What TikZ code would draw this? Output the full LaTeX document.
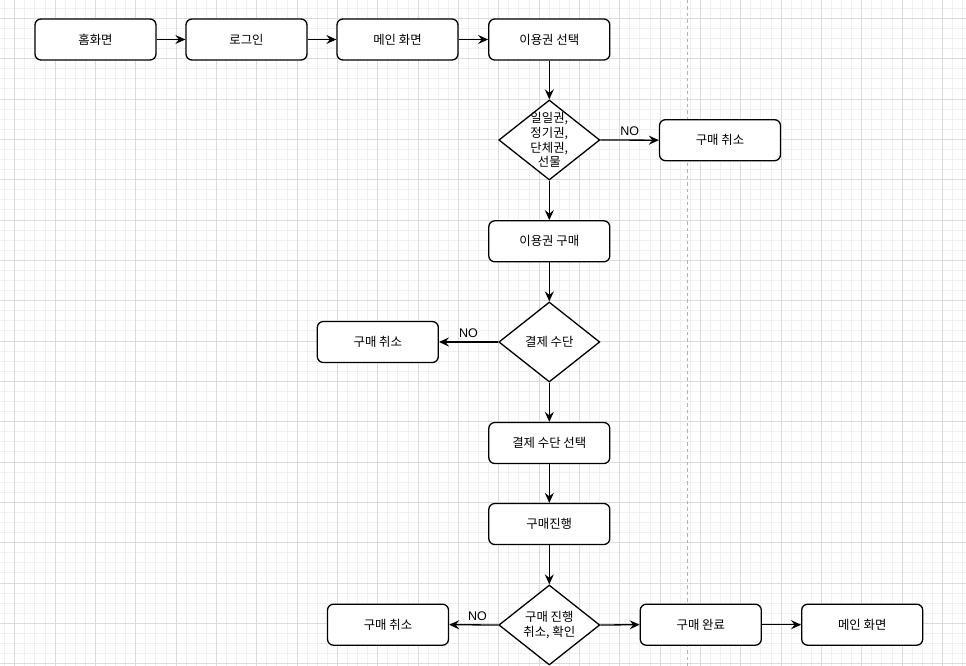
\documentclass[tikz,border=0pt]{standalone}
\usepackage{fontspec}
\setmainfont{Noto Sans CJK KR}
\newfontfamily\latinfont{Liberation Sans}
\usetikzlibrary{shapes.geometric,arrows.meta}
\tikzset{
  minorgrid/.style={draw=black!6, line width=0.8pt},
  majorgrid/.style={draw=black!14, line width=0.8pt},
  divider/.style={draw=black!30, line width=0.9pt, dash pattern=on 3.5pt off 3pt},
  box/.style={draw=black, line width=1.3pt, rounded corners=6pt, minimum width=121pt,
    minimum height=41pt, inner sep=0pt, fill=white, font=\fontsize{12.4}{14.6}\selectfont},
  dia/.style={draw=black, line width=1.3pt, diamond, minimum width=101pt,
    minimum height=80pt, inner sep=0pt, fill=white},
  dtext/.style={align=center, inner sep=0pt, font=\fontsize{12.4}{14.6}\selectfont},
  flow/.style={draw=black, line width=1.3pt, -{Stealth[length=10pt,width=9pt,inset=3.5pt]}},
  nolabel/.style={font=\latinfont\fontsize{12.5}{14}\selectfont, inner sep=0pt, above=4pt}
}
\begin{document}
\begin{tikzpicture}[x=1pt,y=-1pt]
\useasboundingbox (0,0) rectangle (966,666);
\fill[white] (0,0) rectangle (966,666);
% grid
\foreach \i in {-1,...,95}{\draw[minorgrid] ({14.7+10.083*\i},0) -- ({14.7+10.083*\i},666);}
\foreach \j in {-2,...,65}{\draw[minorgrid] (0,{18.3+10.083*\j}) -- (966,{18.3+10.083*\j});}
\foreach \i in {0,...,24}{\draw[majorgrid] ({14.7+40.33*\i},0) -- ({14.7+40.33*\i},666);}
\foreach \j in {0,...,16}{\draw[majorgrid] (0,{18.3+40.33*\j}) -- (966,{18.3+40.33*\j});}
% divider
\coordinate (divtop) at (687.7,0);
\coordinate (divbot) at (687.7,666);
\draw[divider] (divtop) -- (divbot);
% nodes
\node[box] (home)  at (95.5,39.5)  {홈화면};
\node[box] (login) at (246.5,39.5) {로그인};
\node[box] (main1) at (397.5,39.5) {메인 화면};
\node[box] (sel1)  at (549.3,39.5) {이용권 선택};
\node[dia, label={[dtext]center:일일권,\\정기권,\\단체권,\\선물}] (d1) at (549.3,140) {};
\node[box] (c1)    at (720,140.2)  {구매 취소};
\node[box] (buy)   at (549.3,241.3) {이용권 구매};
\node[dia, label={[dtext]center:결제 수단}] (d2) at (549.3,342) {};
\node[box] (c2)    at (377.8,342)  {구매 취소};
\node[box] (pay)   at (549.3,443)  {결제 수단 선택};
\node[box] (prog)  at (549.3,524)  {구매진행};
\node[dia, label={[dtext]center:구매 진행\\취소, 확인}] (d3) at (549.3,625) {};
\node[box] (c3)    at (388,624.7)  {구매 취소};
\node[box] (done)  at (700.8,624.7) {구매 완료};
\node[box] (main2) at (862.2,624.7) {메인 화면};
% connectors
\draw[flow] (home) -- (login);
\draw[flow] (login) -- (main1);
\draw[flow] (main1) -- (sel1);
\draw[flow] (sel1) -- (d1);
\draw[flow] (d1.east) -- node[nolabel, pos=0.5] {NO} (c1.west);
\draw[flow] (d1.south) -- (buy.north);
\draw[flow] (buy.south) -- (d2.north);
\draw[flow] (d2.west) -- node[nolabel, pos=0.5] {NO} (c2.east);
\draw[flow] (d2.south) -- (pay.north);
\draw[flow] (pay.south) -- (prog.north);
\draw[flow] (prog.south) -- (d3.north);
\draw[flow] (d3.west) -- node[nolabel, pos=0.42] {NO} (c3.east);
\draw[flow] (d3.east) -- (done.west);
\draw[flow] (done.east) -- (main2.west);
\end{tikzpicture}
\end{document}
